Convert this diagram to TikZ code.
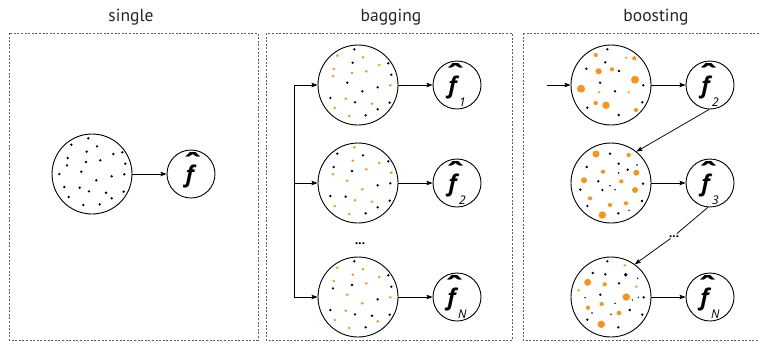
\documentclass[tikz,border=0pt]{standalone}
\usepackage{fontspec}
\setmainfont{PT Sans}
\newfontfamily\labelfont{Open Sans}
\usepackage{graphicx}
\usetikzlibrary{arrows.meta}

\definecolor{dotorange}{RGB}{247,148,30}
\definecolor{framegray}{RGB}{95,95,95}

% f with a hat and an optional subscript
\newcommand\fhat[1]{%
  \rlap{\hspace{0.31em}\makebox[0pt][c]{\raisebox{0.36em}{\scalebox{1.5}[1.25]{\textbf{ˆ}}}}}%
  \textbf{\textit{f}}\kern-0.02em
  \raisebox{-0.56em}{\fontsize{12}{12}\selectfont\itshape #1}}

% sample points inside a data set
\newcommand\blackpts[1]{\foreach \x/\y in {#1} \fill[black] (\x,\y) circle (1.3pt);}
\newcommand\orangepts[1]{\foreach \x/\y in {#1} \fill[dotorange] (\x,\y) circle (1.4pt);}
\newcommand\weightedpts[2]{\foreach \x/\y/\r in {#2} \fill[#1] (\x,\y) circle (\r pt);}

\tikzset{
  panel/.style={draw=framegray, line width=0.7pt, dash pattern=on 2pt off 1.6pt},
  dataset/.style={circle, draw, line width=0.9pt, minimum size=80pt, inner sep=0pt},
  model/.style={circle, draw, line width=0.9pt, minimum size=48pt, inner sep=0pt,
                font=\labelfont\fontsize{23}{23}\selectfont},
  flow/.style={draw, line width=0.75pt, -{Stealth[length=6pt,width=4.5pt,inset=1pt]}},
  link/.style={draw, line width=0.75pt},
  heading/.style={font=\fontsize{17.5}{17.5}\selectfont, text=black!85},
  ellipsis/.style={inner sep=1pt, text height=2.5pt, text depth=0pt,
                   font=\fontsize{13}{13}\selectfont\bfseries},
}

\begin{document}
\begin{tikzpicture}[x=1pt,y=-1pt]
\path[use as bounding box] (0,0) rectangle (759,341);
\clip (0,0) rectangle (759,341);

% panels and their headings
\draw[panel] (9,33) rectangle (258,340);
\draw[panel] (266,33) rectangle (512,340);
\draw[panel] (523,33) rectangle (775,340);
\node[heading] (tsingle) at (131,17) {single};
\node[heading] (tbagging) at (391,17) {bagging};
\node[heading] (tboosting) at (656,17) {boosting};

% ---------- single ----------
\node[dataset] (s) at (92,174) {};
\node[model] (sf) at (191,174) {\fhat{}};
\draw[flow] (s) -- (sf);
\begin{scope}[shift={(s)}]
\blackpts{-3.7/-35.7,-20.7/-29.3,5/-27.7,-5.3/-22.3,21.3/-20,30.3/-21.7,-24.3/-16,
  8.3/-13.7,-6/-12,-25/-8.7,33.3/-10.3,-10.7/-2.3,-32.7/0,19.7/2.3,32.3/0.3,4.3/6.3,
  -27.7/13,-12.3/13.7,-3/17.3,14/18.7,31.7/17.7,-23.3/23,19.7/24.3,7.7/30.3,-8.7/31}
\end{scope}

% ---------- bagging ----------
\node[dataset] (b1) at (358,85) {};
\node[dataset] (b2) at (358,183) {};
\node[dataset] (b3) at (358,297) {};
\node[model] (bf1) at (457,85) {\fhat{1}};
\node[model] (bf2) at (457,183) {\fhat{2}};
\node[model] (bf3) at (457,297) {\fhat{N}};
\node[ellipsis] (bdots) at (360,243) {...};

\coordinate (forktop) at (294,85);
\coordinate (forkmid) at (294,183);
\coordinate (forkbot) at (294,297);
\draw[link] (forktop) -- (forkbot);
\draw[flow] (forktop) -- (b1);
\draw[flow] (forkmid) -- (b2);
\draw[flow] (forkbot) -- (b3);
\draw[flow] (b1) -- (bf1);
\draw[flow] (b2) -- (bf2);
\draw[flow] (b3) -- (bf3);

\begin{scope}[shift={(b1)}]
\blackpts{-3.7/-35.7,-5.3/-22.3,30.3/-21.7,33.3/-10.3,-10.7/-2.3,19.7/2.3,4.3/6.3,
  -27.7/13,-3/17.3,31.7/17.7,19.7/24.3,7.7/30.3}
\orangepts{-20.7/-29.3,5/-27.7,21.3/-20,-24.3/-16,8.3/-13.7,-6/-12,-25/-8.7,32.3/0.3,
  -12.3/13.7,14/18.7,-23.3/23,-8.7/31}
\end{scope}
\begin{scope}[shift={(b2)}]
\orangepts{-3.7/-35.7,-5.3/-22.3,21.3/-20,8.3/-13.7,-25/-8.7,33.3/-10.3,-10.7/-2.3,
  4.3/6.3,-3/17.3,14/18.7,-23.3/23,-8.7/31}
\blackpts{-20.7/-29.3,5/-27.7,30.3/-21.7,-24.3/-16,-6/-12,19.7/2.3,32.3/0.3,-27.7/13,
  -12.3/13.7,31.7/17.7,19.7/24.3,7.7/30.3}
\end{scope}
\begin{scope}[shift={(b3)}]
\blackpts{-3.7/-35.7,30.3/-21.7,-6/-12,-25/-8.7,33.3/-10.3,19.7/2.3,-27.7/13,-3/17.3,
  14/18.7,31.7/17.7,7.7/30.3}
\orangepts{-20.7/-29.3,5/-27.7,-5.3/-22.3,21.3/-20,-24.3/-16,8.3/-13.7,-10.7/-2.3,
  32.3/0.3,4.3/6.3,-12.3/13.7,-23.3/23,19.7/24.3,-8.7/31}
\end{scope}

% ---------- boosting ----------
\node[dataset] (c1) at (611,85) {};
\node[dataset] (c2) at (611,183) {};
\node[dataset] (c3) at (611,297) {};
\node[model] (cf1) at (710,85) {\fhat{2}};
\node[model] (cf2) at (710,183) {\fhat{3}};
\node[model] (cf3) at (710,297) {\fhat{N}};
\node[ellipsis] (cdots) at (674,236) {...};

\coordinate (start) at (547,85);
\draw[flow] (start) -- (c1);
\draw[flow] (c1) -- (cf1);
\draw[flow] (c2) -- (cf2);
\draw[flow] (c3) -- (cf3);
\draw[flow] (cf1.-92) -- (c2.51);
\draw[link] (cf2.-95) -- (cdots);
\draw[flow] (cdots) -- (c3.54);

\begin{scope}[shift={(c1)}]
\weightedpts{black}{-3.7/-35.7/1.3,-5.7/-22.7/1.3,-24.7/-16.3/1.3,8/-14/1.3,-11/-2.3/1.3,
  4/6.3/1.3,32.3/0.3/1.3,-23.7/22.7/1.3,31.3/17.3/1.3,7.7/30/1.3}
\weightedpts{dotorange}{-15.3/-30/2.1,15/-27.3/1.2,23.3/-26.7/2.1,-12.3/-13.7/3.1,
  1/-15.7/2.1,24/-5.3/4,-30/3.7/4,-12/7.3/1.2,17.7/7.3/1.2,-15.3/18/2.1,-5/20.3/3.7,25/25/2.1}
\end{scope}
\begin{scope}[shift={(c2)}]
\weightedpts{black}{-1/-29.3/1.3,7.7/-19.3/1.3,26/-18/0.8,-24.3/-16/1.3,
  16.7/-13.3/1.3,7.7/-10/0.8,-12.7/-1.7/1.3,32/0.7/1.3,-1/2.7/0.8,-30.7/6.7/1.3,
  -8.7/7/1.3,4/6.7/0.8,31/18/1.3,-23.7/23/1.3,18/27.3/0.8,7.3/30.3/1.3}
\weightedpts{dotorange}{-15/-29/3.5,17.7/-28/2.1,-8/-11.3/2.1,25.3/-10.3/3,-27/-2.7/3,
  10.3/-1.7/2.1,24/7/3,-21/15.3/2.1,-1/22/2.1,15/20.3/2.1,-8.7/32/3.7}
\end{scope}
\begin{scope}[shift={(c3)}]
\weightedpts{black}{-3.7/-35.7/1.3,-18.3/-24/1.3,-5.7/-22.7/1.3,14.7/-22.3/1.9,
  26.7/-18.7/0.8,8/-13.7/1.3,-26/0.7/0.8,-10.7/-2.3/1.3,27.3/0.3/0.8,32.7/0.3/1.3,
  4/6.3/0.8,21.3/3/0.8,18.7/13/1.3,-19/16/0.8,0/17.3/0.8,31.3/17.7/1.3,
  -23.7/22.7/1.3,7.3/30.3/1.3}
\weightedpts{dotorange}{13.7/-31.7/1.3,-23.3/-14.7/3.5,-6.3/-12.7/2.1,25.3/-10.3/1.3,
  -32.3/-6.7/1.3,15.3/0/3.7,-9.3/7/2.1,-23/10.7/2.1,8/16/2.3,-9.7/27.3/3.7}
\end{scope}
\end{tikzpicture}
\end{document}
